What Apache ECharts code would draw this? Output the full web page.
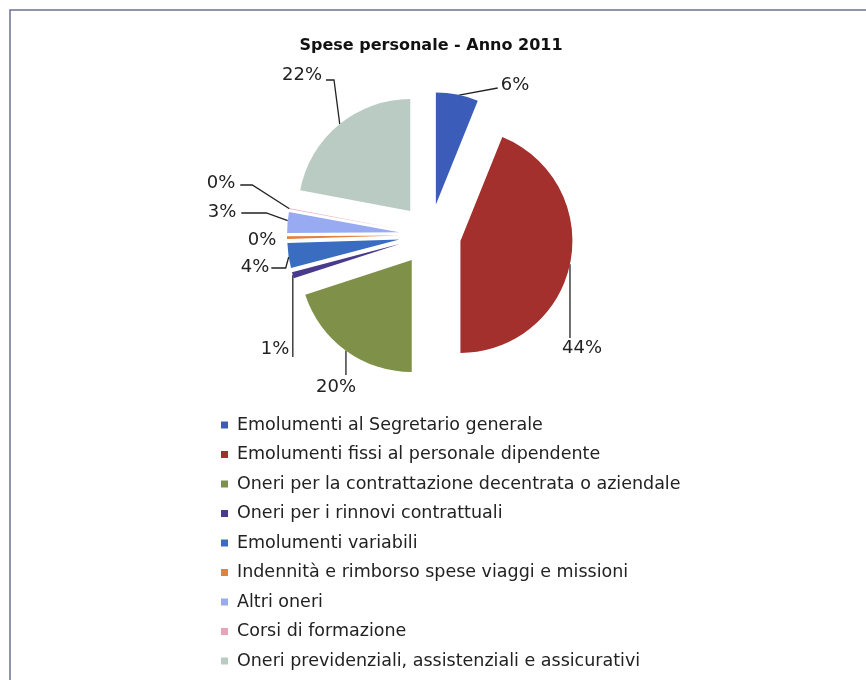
<!DOCTYPE html>
<html>
<head>
<meta charset="utf-8">
<script src="https://cdn.jsdelivr.net/npm/echarts@6/dist/echarts.min.js"></script>
<style>html,body{margin:0;padding:0;background:#fff;}#c{width:866px;height:680px;}</style>
</head>
<body>
<div id="c"></div>
<script>
const categories = [
  'Emolumenti al Segretario generale',
  'Emolumenti fissi al personale dipendente',
  'Oneri per la contrattazione decentrata o aziendale',
  'Oneri per i rinnovi contrattuali',
  'Emolumenti variabili',
  'Indennità e rimborso spese viaggi e missioni',
  'Altri oneri',
  'Corsi di formazione',
  'Oneri previdenziali, assistenziali e assicurativi'
];
const values = [6.1, 43.9, 20.0, 0.9, 3.6, 0.4, 3.0, 0.1, 22.0];
const colors = ['#3b5cb8', '#a3302c', '#7f9148', '#4a3a8c', '#3a6cc0', '#e0823c', '#97aaf2', '#e6a4b8', '#b9cbc2'];

// ---- layout settings (not data) ----
const CX = 430, CY = 235, R = 112, OFFSET = 31;
// label centre positions
const labelPos = [[515, 85], [582, 348], [336, 387], [275, 349], [255, 267], [262, 240], [222, 212], [221, 183], [302, 75]];
// where each leader line touches its slice (degrees clockwise from 12 o'clock)
const touchAngle = [12, 102, 216, 253.6, 261, null, 276, 280.6, 321];

const total = values.reduce((a, b) => a + b, 0);
const midAngle = [];
{ let acc = 0; values.forEach(v => { midAngle.push((acc + v / 2) / total * 360); acc += v; }); }
const rad = d => d * Math.PI / 180;
const sliceOffset = i => [OFFSET * Math.sin(rad(midAngle[i])), -OFFSET * Math.cos(rad(midAngle[i]))];
const arcPoint = (i, ang) => {
  const o = sliceOffset(i);
  return [CX + o[0] + R * Math.sin(rad(ang)), CY + o[1] - R * Math.cos(rad(ang))];
};

function leader(i, w, h) {
  const [lx, ly] = labelPos[i];
  const a = touchAngle[i];
  if (a == null) return null;
  const s = arcPoint(i, a);
  const left = lx - w / 2, right = lx + w / 2, top = ly - h / 2;
  switch (i) {
    case 0: return [s, [left - 3, ly + 3], [left - 3, ly + 3]];
    case 1: return [s, [s[0], top - 1], [s[0], top - 1]];
    case 2: return [s, [s[0], top - 3], [s[0], top - 3]];
    case 3: return [s, [s[0], ly + 8], [s[0], ly + 8]];
    case 4: return [s, [s[0] - 3, ly + 1], [right + 2, ly + 1]];
    case 6: return [s, [right + 30, ly + 1], [right + 5, ly + 1]];
    case 7: return [s, [right + 17, ly + 2], [right + 5, ly + 2]];
    case 8: return [s, [right + 12, ly + 5], [right + 4, ly + 5]];
  }
  return null;
}

const chart = echarts.init(document.getElementById('c'), null, {renderer: 'canvas'});
const data = categories.map((n, i) => ({
  name: n, value: values[i], selected: true,
  itemStyle: {color: colors[i]},
  labelLine: {show: touchAngle[i] != null}
}));
chart.setOption({
  animation: false,
  backgroundColor: '#ffffff',
  title: {
    text: 'Spese personale - Anno 2011',
    left: 426, top: 33, textAlign: 'center',
    textStyle: {fontFamily: 'DejaVu Sans', fontWeight: 'bold', fontSize: 16, color: '#111'}
  },
  legend: {
    orient: 'vertical', left: 221, top: 415, padding: 0,
    itemWidth: 7, itemHeight: 7, itemGap: 9.5,
    icon: 'rect',
    selectedMode: false,
    textStyle: {fontFamily: 'DejaVu Sans', fontSize: 17.5, color: '#222', lineHeight: 20, padding: [0, 0, 0, 4]}
  },
  graphic: [{
    type: 'rect', silent: true,
    shape: {x: 10, y: 10, width: 900, height: 700},
    style: {fill: 'none', stroke: '#6b7090', lineWidth: 1.5}
  }],
  series: [{
    type: 'pie',
    center: [CX, CY],
    radius: R,
    startAngle: 90,
    clockwise: true,
    selectedMode: 'multiple',
    selectedOffset: OFFSET,
    avoidLabelOverlap: false,
    label: {
      show: true, position: 'outside',
      fontFamily: 'DejaVu Sans', fontSize: 18, color: '#222',
      formatter: p => Math.round(p.percent) + '%'
    },
    labelLine: {show: true, length: 12, length2: 14, lineStyle: {color: '#222', width: 1.3}},
    labelLayout: function (params) {
      const i = params.dataIndex;
      const p = labelPos[i];
      const r = params.labelRect;
      const o = sliceOffset(i);
      const res = {dx: p[0] - (r.x + r.width / 2) - o[0], dy: p[1] - (r.y + r.height / 2) - o[1]};
      const pts = leader(i, r.width, r.height);
      if (pts) res.labelLinePoints = pts.map(q => [q[0] - o[0], q[1] - o[1]]);
      return res;
    },
    select: {itemStyle: {}},
    emphasis: {disabled: true},
    data: data
  }]
});
</script>
</body>
</html>
